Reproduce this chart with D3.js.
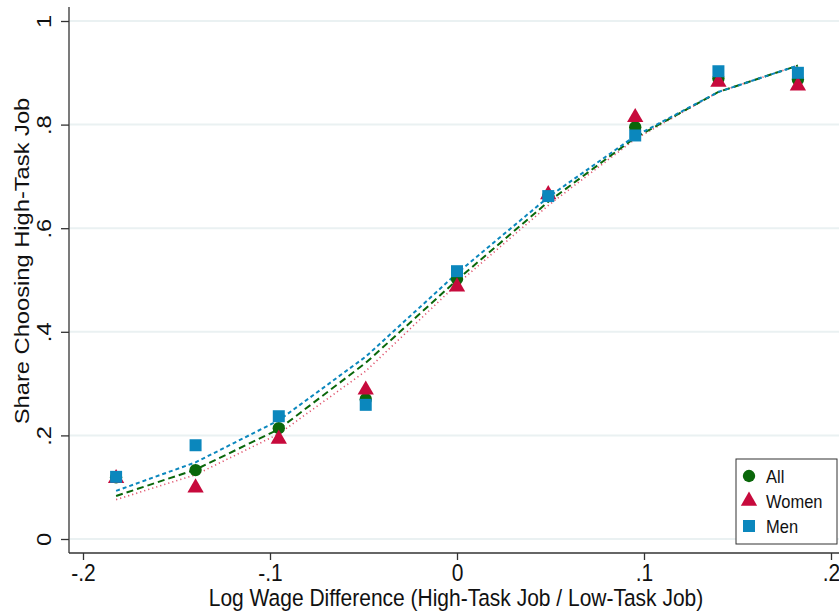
<!DOCTYPE html>
<html>
<head>
<meta charset="utf-8">
<script src="https://cdn.jsdelivr.net/npm/d3@7"></script>
<style>
  html, body { margin: 0; padding: 0; background: #fff; }
  svg { display: block; font-family: "Liberation Sans", Arial, Helvetica, sans-serif; }
</style>
</head>
<body>
<svg id="chart" width="839" height="613"></svg>
<script>
// Log wage difference between the high-task and low-task job
const wageDiff = [-0.1823, -0.1398, -0.0953, -0.0488, 0, 0.0488, 0.0953, 0.1398, 0.1823];

// Observed share choosing the high-task job
const shareAll   = [0.119, 0.133, 0.214, 0.270, 0.502, 0.662, 0.795, 0.889, 0.887];
const shareWomen = [0.117, 0.099, 0.193, 0.288, 0.487, 0.665, 0.814, 0.882, 0.875];
const shareMen   = [0.120, 0.181, 0.237, 0.259, 0.517, 0.662, 0.779, 0.903, 0.900];

// Smoothed fits evaluated at the same wage differences
const fitAll   = [0.083, 0.134, 0.212, 0.340, 0.500, 0.651, 0.775, 0.863, 0.914];
const fitWomen = [0.076, 0.124, 0.203, 0.324, 0.492, 0.644, 0.772, 0.863, 0.914];
const fitMen   = [0.093, 0.148, 0.229, 0.352, 0.513, 0.660, 0.778, 0.863, 0.914];

const xTicks = [-0.2, -0.1, 0, 0.1, 0.2];
const xTickLabels = ["-.2", "-.1", "0", ".1", ".2"];
const yTicks = [0, 0.2, 0.4, 0.6, 0.8, 1];
const yTickLabels = ["0", ".2", ".4", ".6", ".8", "1"];

const seriesNames = ["All", "Women", "Men"];

const svg = d3.select("#chart");
const W = 839, H = 613;

const x = d3.scaleLinear().domain([-0.2, 0.2]).range([83, 831]);
const y = d3.scaleLinear().domain([0, 1]).range([539, 21]);

const axisX = 69;     // vertical axis position
const axisY = 553;    // horizontal axis position

const colors = { All: "#0a670a", Women: "#c70a3c", Men: "#0b87bd" };

// Text is drawn slightly narrow: tall glyphs squeezed across their width
const fontMain = "23.7px";
const narrow = 0.886;

// Horizontal grid lines
svg.append("g")
  .selectAll("line")
  .data(yTicks)
  .join("line")
  .attr("x1", axisX + 1).attr("x2", W)
  .attr("y1", d => y(d)).attr("y2", d => y(d))
  .attr("stroke", "#eaf1f2")
  .attr("stroke-width", 2);

// Fitted curves
const line = d3.line().x((d, i) => x(wageDiff[i])).y(d => y(d));

const fits = [
  { name: "Women", values: fitWomen, dash: "1.2,3", width: 1.6, color: "#e0566f" },
  { name: "All",   values: fitAll,   dash: "7,4",   width: 2,   color: colors.All },
  { name: "Men",   values: fitMen,   dash: "4,3",   width: 2,   color: colors.Men }
];

svg.append("g")
  .selectAll("path")
  .data(fits)
  .join("path")
  .attr("d", d => line(d.values))
  .attr("fill", "none")
  .attr("stroke", d => d.color)
  .attr("stroke-width", d => d.width)
  .attr("stroke-dasharray", d => d.dash);

// Markers
const symbols = {
  All: d3.symbol().type(d3.symbolCircle).size(120),
  Women: d3.symbol().type(d3.symbolTriangle).size(115),
  Men: d3.symbol().type(d3.symbolSquare).size(144)
};

const points = [
  { name: "All", values: shareAll },
  { name: "Women", values: shareWomen },
  { name: "Men", values: shareMen }
];

points.forEach(s => {
  svg.append("g")
    .selectAll("path")
    .data(s.values)
    .join("path")
    .attr("transform", (d, i) => `translate(${x(wageDiff[i])},${y(d)})`)
    .attr("d", symbols[s.name]())
    .attr("fill", colors[s.name]);
});

// Axes
const xAxis = d3.axisBottom(x)
  .tickValues(xTicks)
  .tickFormat((d, i) => xTickLabels[i])
  .tickSize(7)
  .tickPadding(4);

const gx = svg.append("g")
  .attr("transform", `translate(0,${axisY})`)
  .call(xAxis);
gx.select(".domain").remove();
gx.append("line")
  .attr("x1", axisX).attr("x2", W)
  .attr("y1", 0).attr("y2", 0)
  .attr("stroke", "#333").attr("stroke-width", 1.3);
gx.selectAll(".tick line").attr("stroke", "#333").attr("stroke-width", 1.3);
gx.selectAll(".tick text")
  .attr("fill", "#111")
  .attr("transform", `scale(${narrow},1)`)
  .style("font-size", fontMain)
  .style("font-family", "'Liberation Sans', Arial, sans-serif");

const yAxis = d3.axisLeft(y)
  .tickValues(yTicks)
  .tickFormat((d, i) => yTickLabels[i])
  .tickSize(8);

const gy = svg.append("g")
  .attr("transform", `translate(${axisX},0)`)
  .call(yAxis);
gy.select(".domain").remove();
gy.append("line")
  .attr("x1", 0).attr("x2", 0)
  .attr("y1", 7).attr("y2", axisY)
  .attr("stroke", "#333").attr("stroke-width", 1.3);
gy.selectAll(".tick line").attr("stroke", "#333").attr("stroke-width", 1.3);
gy.selectAll(".tick text")
  .attr("fill", "#111")
  .attr("x", null).attr("dy", null)
  .attr("text-anchor", "middle")
  .attr("transform", `translate(-18,0) rotate(-90) scale(1,${narrow})`)
  .style("font-size", fontMain)
  .style("font-family", "'Liberation Sans', Arial, sans-serif");

// Axis titles
svg.append("text")
  .attr("transform", `translate(456,606) scale(${narrow},1)`)
  .attr("text-anchor", "middle")
  .attr("fill", "#111")
  .style("font-size", fontMain)
  .text("Log Wage Difference (High-Task Job / Low-Task Job)");

svg.append("text")
  .attr("transform", `translate(29,261) rotate(-90) scale(1,${narrow})`)
  .attr("text-anchor", "middle")
  .attr("fill", "#111")
  .style("font-size", fontMain)
  .text("Share Choosing High-Task Job");

// Legend
const legend = svg.append("g").attr("transform", "translate(736,459)");
legend.append("rect")
  .attr("width", 101).attr("height", 85)
  .attr("fill", "#fff")
  .attr("stroke", "#333").attr("stroke-width", 1);

const legItems = legend.selectAll("g.item")
  .data(seriesNames)
  .join("g")
  .attr("class", "item")
  .attr("transform", (d, i) => `translate(13,${17 + i * 25})`);

legItems.append("path")
  .attr("d", d => symbols[d]())
  .attr("fill", d => colors[d]);

legItems.append("text")
  .attr("transform", `translate(17,6.5) scale(${narrow},1)`)
  .attr("fill", "#111")
  .style("font-size", "18.6px")
  .text(d => d);
</script>
</body>
</html>
